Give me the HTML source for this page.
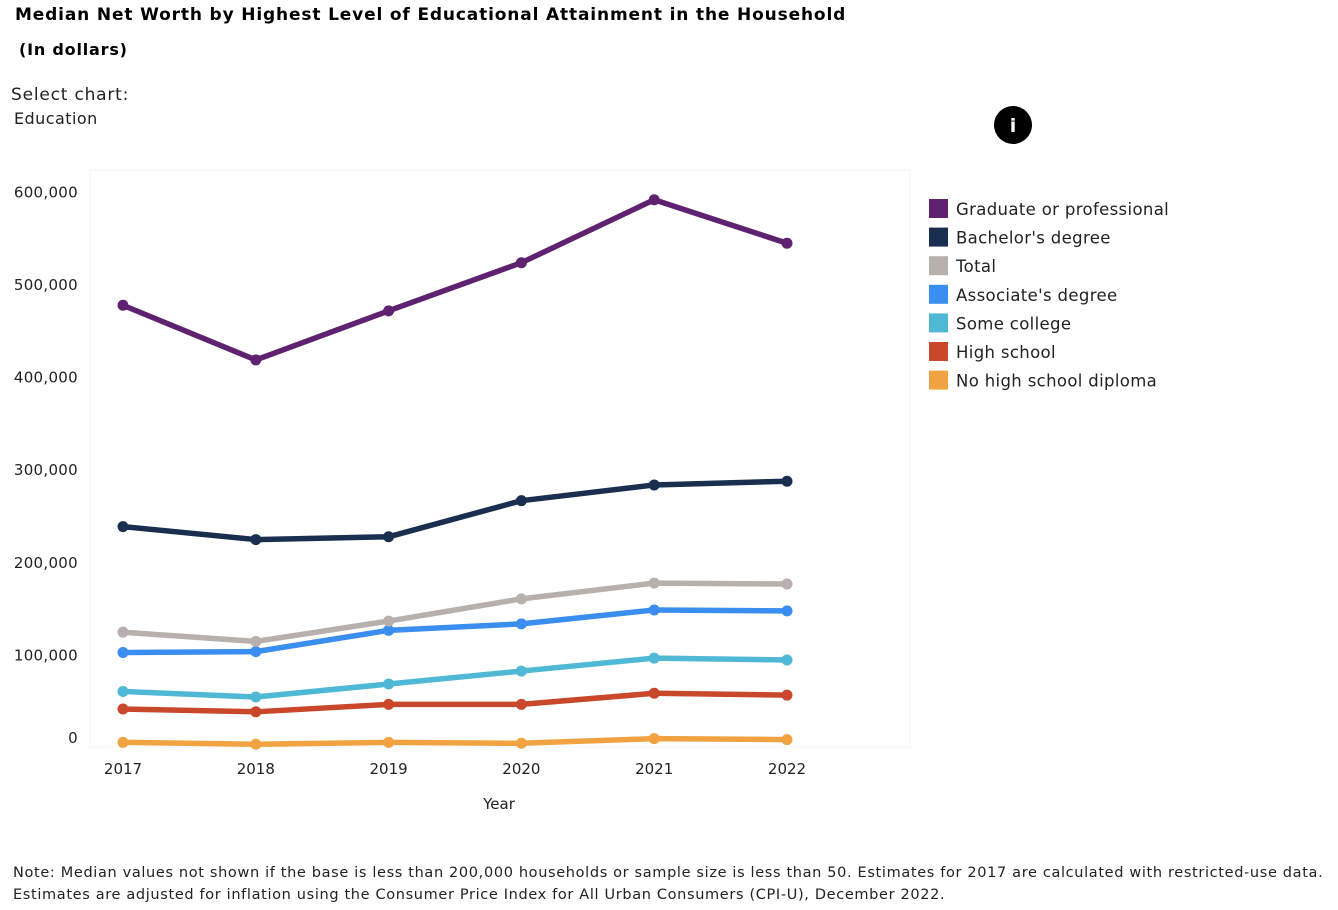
<!DOCTYPE html>
<html><head><meta charset="utf-8">
<style>
body{margin:0;background:#fff;width:1338px;height:910px;overflow:hidden;font-family:"DejaVu Sans","Liberation Sans",sans-serif;color:#000}
.t{position:absolute;white-space:nowrap}
</style></head>
<body>
<div class="t" style="left:15px;top:5px;font-size:17px;font-weight:bold;letter-spacing:0.85px">Median Net Worth by Highest Level of Educational Attainment in the Household</div>
<div class="t" style="left:19px;top:40px;font-size:16px;font-weight:bold;letter-spacing:0.8px">(In dollars)</div>
<div class="t" style="left:11px;top:85px;font-size:17px;color:#222;letter-spacing:0.8px">Select chart:</div>
<div class="t" style="left:14px;top:109px;font-size:16px;color:#222;letter-spacing:0.45px">Education</div>
<div class="t" style="left:13px;top:862px;font-size:14.5px;line-height:22px;color:#222;letter-spacing:0.65px">Note: Median values not shown if the base is less than 200,000 households or sample size is less than 50. Estimates for 2017 are calculated with restricted-use data.<br>Estimates are adjusted for inflation using the Consumer Price Index for All Urban Consumers (CPI-U), December 2022.</div>
<svg id="c" width="1338" height="910" style="position:absolute;left:0;top:0" xmlns="http://www.w3.org/2000/svg">
<g><circle cx="1013" cy="125" r="19" fill="#000"/><text x="1013" y="132" text-anchor="middle" font-size="19" font-weight="bold" fill="#fff">i</text></g>
</svg>
<script>
const years=[2017,2018,2019,2020,2021,2022];
const seriesNames=["Graduate or professional","Bachelor's degree","Total","Associate's degree","Some college","High school","No high school diploma"];
const colors=["#5e2271","#1a2e4f","#b8b0ac","#3a8ef0","#4fb8d4","#c9472a","#f0a340"];
const grad=[477000,418000,471000,523000,591000,544000];
const bach=[238000,224000,227000,266000,283000,287000];
const total=[124000,114000,136000,160000,177000,176000];
const assoc=[102000,103000,126000,133000,148000,147000];
const some=[60000,54000,68000,82000,96000,94000];
const hs=[41000,38000,46000,46000,58000,56000];
const nohs=[5000,3000,5000,4000,9000,8000];
const yTicks=[0,100000,200000,300000,400000,500000,600000];
const allSeries=[grad,bach,total,assoc,some,hs,nohs];
const NS="http://www.w3.org/2000/svg";
const svg=document.getElementById('c');
const x=y=>123+(y-2017)*132.8;
const yv=v=>747-v*0.000926;
function mk(t,a){const e=document.createElementNS(NS,t);for(const k in a)e.setAttribute(k,a[k]);svg.appendChild(e);return e;}
const pa=mk('rect',{x:90,y:170,width:820,height:577,fill:'none',stroke:'#f4f4f4'});


yTicks.forEach(v=>{const t=mk('text',{x:78,y:(v===0?yv(v)-4:yv(v)+6),'text-anchor':'end','font-size':15,fill:'#222','letter-spacing':0.3});t.textContent=v.toLocaleString('en-US');

});
years.forEach(yr=>{const t=mk('text',{x:x(yr),y:774,'text-anchor':'middle','font-size':15,fill:'#222'});t.textContent=yr;

});
const xt=mk('text',{x:499,y:809,'text-anchor':'middle','font-size':15,fill:'#222'});xt.textContent='Year';


for(let i=allSeries.length-1;i>=0;i--){const d=allSeries[i];
const p=mk('polyline',{points:d.map((v,j)=>x(years[j])+','+yv(v)).join(' '),fill:'none',stroke:colors[i],'stroke-width':5.5,'stroke-linejoin':'round'});


d.forEach((v,j)=>{const c=mk('circle',{cx:x(years[j]),cy:yv(v),r:5.5,fill:colors[i]});

});}
seriesNames.forEach((n,i)=>{const yy=208+i*28.6;
const r=mk('rect',{x:929,y:yy-9,width:19,height:19,fill:colors[i]});


const t=mk('text',{x:956,y:yy+7,'font-size':16.5,fill:'#222','letter-spacing':0.35});t.textContent=n;

});
</script>
</body></html>
